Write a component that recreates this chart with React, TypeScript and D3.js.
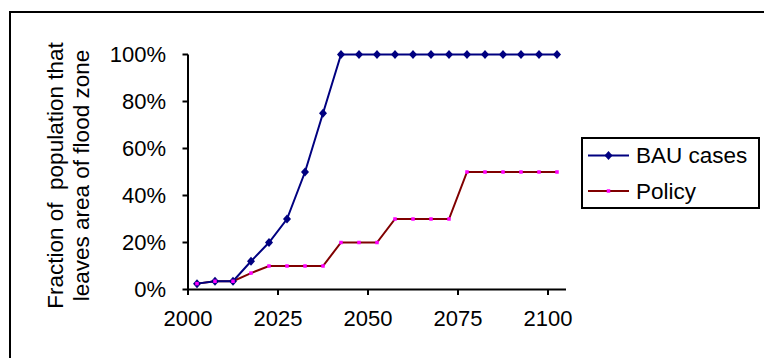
import React from "react";
import * as d3 from "d3";

const years = d3.range(21).map((i) => 2002.5 + 5 * i);
const bauValues = [0.025, 0.035, 0.035, 0.12, 0.2, 0.3, 0.5, 0.75, 1, 1, 1, 1, 1, 1, 1, 1, 1, 1, 1, 1, 1];
const policyValues = [0.025, 0.035, 0.035, 0.07, 0.1, 0.1, 0.1, 0.1, 0.2, 0.2, 0.2, 0.3, 0.3, 0.3, 0.3, 0.5, 0.5, 0.5, 0.5, 0.5, 0.5];
const xTicks = [2000, 2025, 2050, 2075, 2100];
const yTicks = [0, 0.2, 0.4, 0.6, 0.8, 1];
const seriesNames = ["BAU cases", "Policy"];
const titleLines = ["Fraction of  population that", "leaves area of flood zone"];

const FONT = "'Liberation Sans', Arial, sans-serif";
const FS = 22;

export default function App() {
  const x = d3.scaleLinear().domain([2000, 2105]).range([188, 566]);
  const y = d3.scaleLinear().domain([0, 1]).range([289.5, 54.5]);
  const line = d3
    .line<number>()
    .x((_, i) => x(years[i]))
    .y((d) => y(d));
  const diamond = (cx: number, cy: number) =>
    `M${cx},${cy - 4.5}L${cx + 4},${cy}L${cx},${cy + 4.5}L${cx - 4},${cy}Z`;

  const legendItems = [
    { name: seriesNames[0], color: "#000080", y: 155.5, type: "diamond" },
    { name: seriesNames[1], color: "#800000", y: 191, type: "square" },
  ];

  return (
    <svg
      width={764}
      height={358}
      style={{ position: "absolute", left: 0, top: 0, background: "#fff" }}
      fontFamily={FONT}
    >
      <rect x={10} y={12} width={800} height={400} fill="none" stroke="#000" strokeWidth={2} />

      {/* y axis */}
      <line x1={188} x2={188} y1={y(1)} y2={y(0)} stroke="#000" strokeWidth={2} />
      {yTicks.map((t) => (
        <g key={t}>
          <line x1={182.5} x2={188} y1={y(t)} y2={y(t)} stroke="#000" strokeWidth={2} />
          <text x={166} y={y(t)} dy="0.35em" textAnchor="end" fontSize={FS}>
            {d3.format(".0%")(t)}
          </text>
        </g>
      ))}

      {/* x axis */}
      <line x1={187} x2={566} y1={y(0)} y2={y(0)} stroke="#000" strokeWidth={2} />
      {xTicks.map((t) => (
        <g key={t}>
          <line x1={x(t)} x2={x(t)} y1={y(0)} y2={y(0) + 5.5} stroke="#000" strokeWidth={2} />
          <text x={x(t)} y={326} textAnchor="middle" fontSize={FS}>
            {t}
          </text>
        </g>
      ))}

      {/* axis title */}
      {titleLines.map((l, i) => (
        <text
          key={i}
          transform={`translate(${62.5 + i * 26},175.5) rotate(-90)`}
          textAnchor="middle"
          fontSize={22.5}
          xmlSpace="preserve"
          style={{ whiteSpace: "pre" }}
        >
          {l}
        </text>
      ))}

      {/* series */}
      <path d={line(policyValues) || ""} fill="none" stroke="#800000" strokeWidth={2} />
      <path d={line(bauValues) || ""} fill="none" stroke="#000080" strokeWidth={2} />
      {bauValues.map((v, i) => (
        <path key={"b" + i} d={diamond(x(years[i]), y(v))} fill="#000080" />
      ))}
      {policyValues.map((v, i) => (
        <rect key={"p" + i} x={x(years[i]) - 1.75} y={y(v) - 1.75} width={3.5} height={3.5} fill="#ff00ff" />
      ))}

      {/* legend */}
      <rect x={582} y={138} width={177} height={70} fill="#fff" stroke="#000" strokeWidth={2} />
      {legendItems.map((it) => (
        <g key={it.name}>
          <line x1={588} x2={629} y1={it.y} y2={it.y} stroke={it.color} strokeWidth={2} />
          {it.type === "diamond" ? (
            <path d={diamond(608.5, it.y)} fill="#000080" />
          ) : (
            <rect x={606.75} y={it.y - 1.75} width={3.5} height={3.5} fill="#ff00ff" />
          )}
          <text x={636} y={it.y} dy="0.35em" fontSize={22.5}>
            {it.name}
          </text>
        </g>
      ))}
    </svg>
  );
}
